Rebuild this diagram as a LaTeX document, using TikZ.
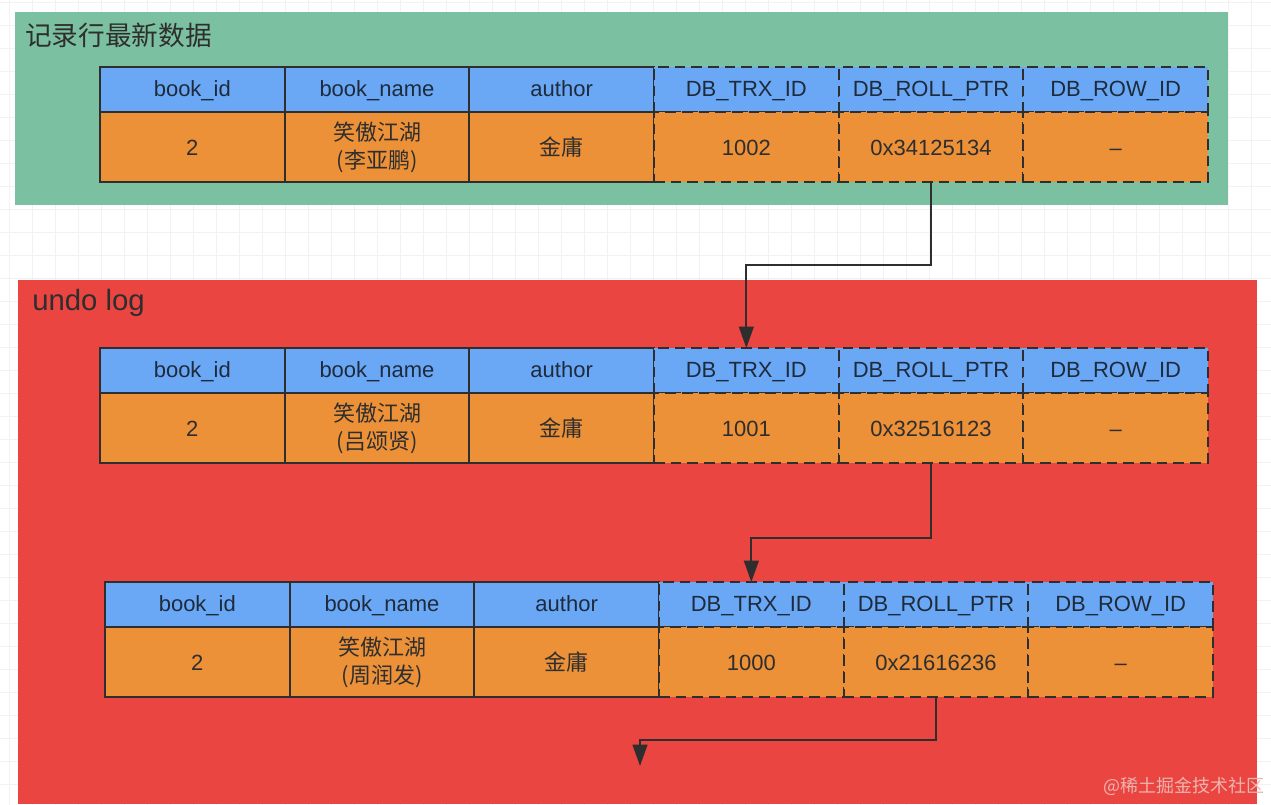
\documentclass[tikz,border=0pt]{standalone}
\usepackage{fontspec}
\setmainfont{Liberation Sans}
\newfontfamily\cjk{Noto Sans CJK SC}
\usepackage{tikz}
\usetikzlibrary{positioning,arrows.meta}

\definecolor{rowgreen}{HTML}{7BC1A1}
\definecolor{undored}{HTML}{EA4540}
\definecolor{headblue}{HTML}{6AA8F6}
\definecolor{valorange}{HTML}{EC9138}
\definecolor{inkgray}{HTML}{2E2E2E}
\definecolor{headink}{HTML}{1E2B3C}
\definecolor{wmark}{HTML}{EDB4AF}

\tikzset{
  cell/.style={draw=inkgray,line width=1.6pt,outer sep=0pt,inner sep=0pt,minimum width=138.5pt,align=center,font=\fontsize{16.5}{21}\selectfont},
  hdr/.style={cell,fill=headblue,text=headink,minimum height=34pt,text height=12pt,text depth=2pt},
  val/.style={cell,fill=valorange,text=inkgray,minimum height=52pt},
  oneline/.style={text height=12pt,text depth=0pt},
  hidden/.style={dash pattern=on 8pt off 4.5pt},
  area/.style={anchor=north west,outer sep=0pt,inner sep=0pt},
  areatitle/.style={anchor=west,inner sep=0pt,text=inkgray,font=\fontsize{20}{24}\selectfont},
  link/.style={draw=inkgray,line width=1.6pt,-{Triangle[length=16pt,width=11pt]}}
}

\begin{document}
\begin{tikzpicture}[x=0.75pt,y=-0.75pt]
 \useasboundingbox (0,0) rectangle (1271,804);
 % background grid
 \begin{scope}[shift={(9,2)}]
  \draw[black!5,line width=0.6pt,step=17.25pt] (-9,-2) grid (1271,804);
 \end{scope}

 % latest row
 \node[area,fill=rowgreen,minimum width=909.75pt,minimum height=144.75pt] (latest) at (15,12) {};
 \node[areatitle] (latesttitle) at (25,35) {\cjk 记录行最新数据};

 % undo log
 \node[area,fill=undored,minimum width=929.25pt,minimum height=393pt] (undo) at (18,280) {};
 \node[areatitle,font=\fontsize{22}{26}\selectfont] (undotitle) at (32,303) {undo log};

 \foreach \t/\x/\y/\who/\trx/\ptr in {a/100/67/李亚鹏/1002/0x34125134,b/100/348/吕颂贤/1001/0x32516123,c/105/582/周润发/1000/0x21616236}{
  \node[hdr,anchor=north west] (\t-bid) at (\x,\y) {book\_id};
  \node[hdr,right=0pt of \t-bid] (\t-bname) {book\_name};
  \node[hdr,right=0pt of \t-bname] (\t-author) {author};
  \node[val,oneline,below=0pt of \t-bid] (\t-bidv) {2};
  \node[val,below=0pt of \t-bname] (\t-bnamev) {{\cjk 笑傲江湖}\\{\cjk (\who)}};
  \node[val,oneline,below=0pt of \t-author] (\t-authorv) {\cjk 金庸};
  \node[hdr,hidden,right=0pt of \t-author] (\t-trx) {DB\_TRX\_ID};
  \node[hdr,hidden,right=0pt of \t-trx] (\t-ptr) {DB\_ROLL\_PTR};
  \node[hdr,hidden,right=0pt of \t-ptr] (\t-row) {DB\_ROW\_ID};
  \node[val,oneline,hidden,below=0pt of \t-trx] (\t-trxv) {\trx};
  \node[val,oneline,hidden,below=0pt of \t-ptr] (\t-ptrv) {\ptr};
  \node[val,oneline,hidden,below=0pt of \t-row] (\t-rowv) {--};
 }

 % roll pointers
 \coordinate (c-next) at (640,766);
 \draw[link] (a-ptrv.south) -- ++(0,83) -| (b-trx.north);
 \draw[link] (b-ptrv.south) -- ++(0,75) -| (c-trx.north);
 \draw[link] (c-ptrv.south) -- ++(0,43) -| (c-next);

 \node[anchor=east,inner sep=0pt,text=wmark,font=\fontsize{13.5}{16}\selectfont] (mark) at (1265,786) {\cjk @稀土掘金技术社区};
\end{tikzpicture}
\end{document}
